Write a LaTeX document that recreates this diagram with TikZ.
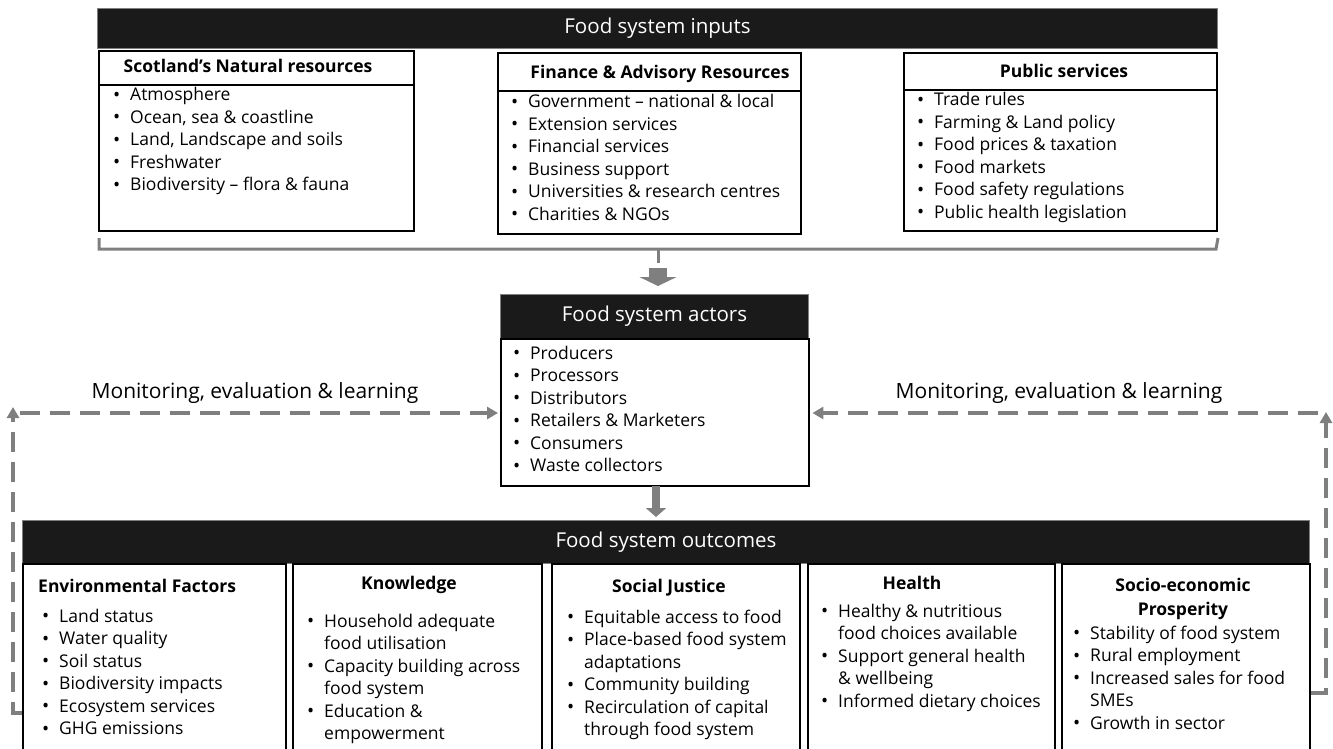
\documentclass[tikz,border=0pt]{standalone}
\usepackage{fontspec}
\setmainfont{Open Sans}
\usetikzlibrary{arrows.meta}
\definecolor{cgray}{HTML}{7F7F7F}
\definecolor{barfill}{HTML}{1A1A1A}
\newcommand{\blst}[1]{\begin{tabular}[t]{@{}l@{}}#1\end{tabular}}
\newcommand{\itm}{\makebox[17pt][l]{\raisebox{-0.5pt}{\fontsize{19}{19}\selectfont\textbullet}}}
\newcommand{\cnt}{\hspace*{17pt}}
\tikzset{
  box/.style={draw=black, line width=2.4pt, inner sep=0pt, anchor=north west},
  barbox/.style={fill=barfill, draw=cgray, line width=1pt, anchor=north west, inner sep=0pt, text=white, font=\fontsize{20.5}{20.5}\selectfont},
  lst/.style={anchor=base west, inner sep=0pt, font=\fontsize{17.5}{22.5}\selectfont},
  ttl/.style={anchor=base, inner sep=0pt, font=\bfseries\fontsize{17.5}{22.5}\selectfont},
  mel/.style={draw=cgray, line width=4pt, dash pattern=on 20pt off 10pt},
  meltip/.style={-{Triangle[length=11pt,width=12pt]}},
  note/.style={font=\fontsize{21}{21}\selectfont, anchor=base, inner sep=0pt},
  brk/.style={draw=cgray, line width=3pt},
}
\begin{document}
\begin{tikzpicture}[x=1pt,y=-1pt]
\useasboundingbox (0,0) rectangle (1333,749);
\clip (0,0) rectangle (1333,749);

% ---------- inputs ----------
\node[barbox, minimum width=1120, minimum height=40] (inbar) at (97,8) {Food system inputs};

\node[box, minimum width=315, minimum height=34] (nathd) at (98,50) {};
\node[box, minimum width=315, minimum height=146] (natbd) at (98,84) {};
\node[ttl] (natt) at (248,73) {Scotland’s Natural resources};
\node[lst] (natl) at (113,101) {\blst{\itm Atmosphere\\ \itm Ocean, sea \& coastline\\ \itm Land, Landscape and soils\\ \itm Freshwater\\ \itm Biodiversity – flora \& fauna}};

\node[box, minimum width=303, minimum height=38] (finhd) at (497,52) {};
\node[box, minimum width=303, minimum height=143] (finbd) at (497,90) {};
\node[ttl] (fint) at (660,79) {Finance \& Advisory Resources};
\node[lst] (finl) at (511,108) {\blst{\itm Government – national \& local\\ \itm Extension services\\ \itm Financial services\\ \itm Business support\\ \itm Universities \& research centres\\ \itm Charities \& NGOs}};

\node[box, minimum width=313, minimum height=37] (pubhd) at (903,52) {};
\node[box, minimum width=313, minimum height=141] (pubbd) at (903,89) {};
\node[ttl] (pubt) at (1064,78) {Public services};
\node[lst] (publ) at (917,106) {\blst{\itm Trade rules\\ \itm Farming \& Land policy\\ \itm Food prices \& taxation\\ \itm Food markets\\ \itm Food safety regulations\\ \itm Public health legislation}};

% bracket
\coordinate (b1) at (99,238);
\coordinate (b2) at (99,249);
\coordinate (b3) at (1216,249);
\coordinate (b4) at (1218,238);
\coordinate (bm) at (658,249);
\coordinate (bt) at (658,263);
\draw[brk] (b1) -- (b2) -- (b3) -- (b4);
\draw[brk] (bm) -- (bt);

% ---------- actors ----------
\node[barbox, minimum width=308, minimum height=44] (acthd) at (500,294) {Food system actors};
\node[box, minimum width=308, minimum height=147] (actbd) at (500,338) {};
\node[lst] (actl) at (513,359) {\blst{\itm Producers\\ \itm Processors\\ \itm Distributors\\ \itm Retailers \& Marketers\\ \itm Consumers\\ \itm Waste collectors}};

\coordinate (a1s) at (658,268);
\draw[cgray, line width=18pt, -{Triangle[length=9pt,width=37pt]}, shorten >=8pt] (a1s) -- (a1s |- acthd.north);

% ---------- outcomes ----------
\node[barbox, minimum width=1287, minimum height=43] (outbar) at (22,520) {Food system outcomes};
\coordinate (a2s) at (656,486);
\draw[cgray, line width=8pt, -{Triangle[length=9pt,width=20pt]}, shorten >=3pt] (a2s) -- (a2s |- outbar.north);

\node[box, minimum width=263, minimum height=240] (env) at (22,563) {};
\node[box, minimum width=249, minimum height=240] (kno) at (292,563) {};
\node[box, minimum width=248, minimum height=240] (soc) at (551,563) {};
\node[box, minimum width=247, minimum height=240] (hea) at (807,563) {};
\node[box, minimum width=248, minimum height=240] (sep) at (1061,563) {};

\node[ttl, anchor=base west] (envt) at (38,592) {Environmental Factors};
\node[lst] (envl) at (42,622) {\blst{\itm Land status\\ \itm Water quality\\ \itm Soil status\\ \itm Biodiversity impacts\\ \itm Ecosystem services\\ \itm GHG emissions}};

\node[ttl] (knot) at (409,589) {Knowledge};
\node[lst] (knol) at (307,627) {\blst{\itm Household adequate\\ \cnt food utilisation\\ \itm Capacity building across\\ \cnt food system\\ \itm Education \&\\ \cnt empowerment}};

\node[ttl] (soct) at (669,592) {Social Justice};
\node[lst] (socl) at (567,623) {\blst{\itm Equitable access to food\\ \itm Place-based food system\\ \cnt adaptations\\ \itm Community building\\ \itm Recirculation of capital\\ \cnt through food system}};

\node[ttl] (heat) at (912,589) {Health};
\node[lst] (heal) at (821,617) {\blst{\itm Healthy \& nutritious\\ \cnt food choices available\\ \itm Support general health\\ \cnt \& wellbeing\\ \itm Informed dietary choices}};

\node[ttl] (sept) at (1183,591) {Socio-economic};
\node[ttl] (sept2) at (1183,615) {Prosperity};
\node[lst] (sepl) at (1073,639) {\blst{\itm Stability of food system\\ \itm Rural employment\\ \itm Increased sales for food\\ \cnt SMEs\\ \itm Growth in sector}};

% ---------- monitoring loops ----------
\node[note] (mell) at (255,398) {Monitoring, evaluation \& learning};
\node[note] (melr) at (1059,398) {Monitoring, evaluation \& learning};

\coordinate (L1) at (13,713);
\coordinate (L2) at (13,407);
\coordinate (L3) at (20,413);
\draw[mel, meltip] (env.west |- L1) -- (L1) -- (L2);
\draw[mel, meltip, shorten >=2pt] (L3) -- (actbd.west |- L3);

\coordinate (R1) at (1326,693);
\coordinate (R2) at (1326,412);
\coordinate (R3) at (1318,413);
\draw[mel, meltip] (sep.east |- R1) -- (R1) -- (R2);
\draw[mel, meltip, shorten >=2pt] (R3) -- (actbd.east |- R3);
\end{tikzpicture}
\end{document}
